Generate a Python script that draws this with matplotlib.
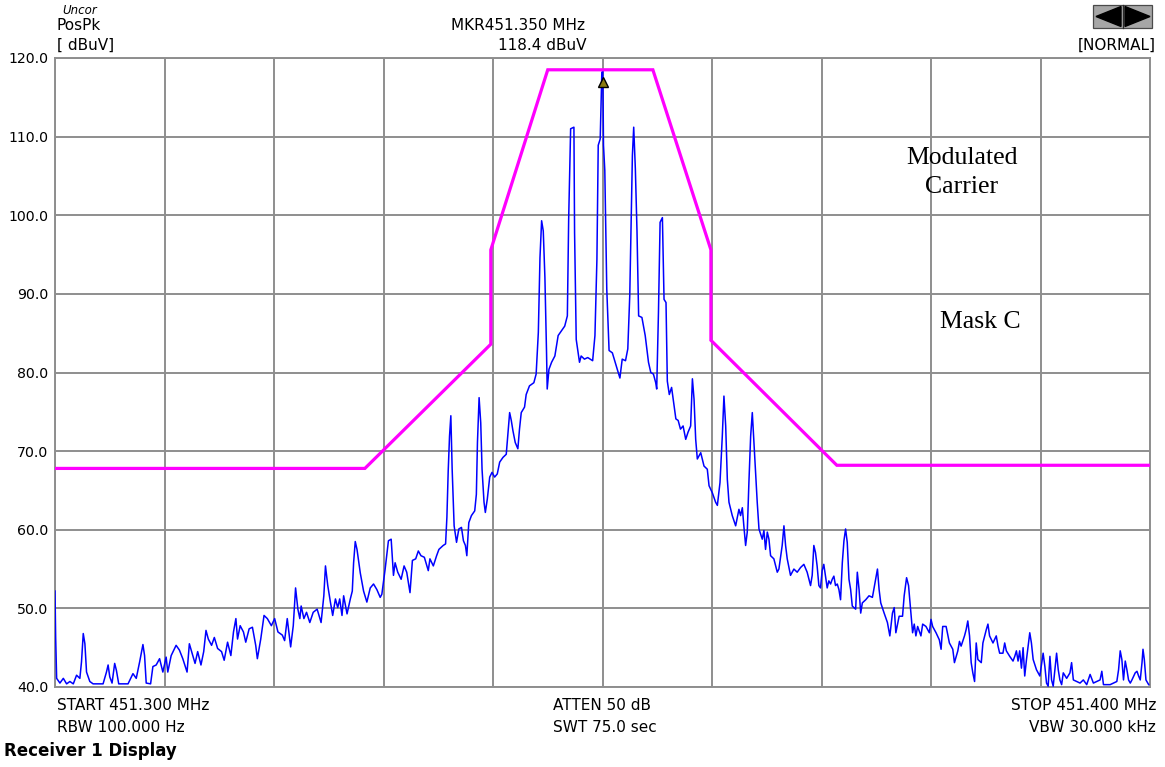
#!/usr/bin/env python3
"""Receiver 1 display: PosPk spectrum trace with Mask C around 451.350 MHz."""
import matplotlib

matplotlib.use("Agg")

import matplotlib.pyplot as plt
from matplotlib.patches import Polygon, Rectangle
import numpy as np

START_MHZ = 451.300
STOP_MHZ = 451.400
Y_MIN, Y_MAX = 40.0, 120.0
Y_TICKS = [40, 50, 60, 70, 80, 90, 100, 110, 120]

# mask C, offset from START in kHz -> dBuV
MASK_KHZ = [0.0, 28.3, 39.8, 39.8, 45.0, 54.6, 59.9, 59.9, 71.4, 100.0]
MASK_DBUV = [67.8, 67.8, 83.6, 95.6, 118.5, 118.5, 95.6, 84.1, 68.2, 68.2]

MARKER_KHZ = 50.0
MARKER_DBUV = 118.4

# PosPk trace: (offset kHz, dBuV)
TRACE = [
    (0.00, 52.2), (0.06, 46.3), (0.15, 41.1), (0.45, 40.5), (0.76, 41.1), (1.06, 40.4),
    (1.36, 40.7), (1.67, 40.4), (1.97, 41.5), (2.27, 41.1), (2.42, 43.2), (2.58, 46.8),
    (2.73, 45.5), (2.88, 41.9), (3.18, 40.7), (3.48, 40.4), (3.94, 40.4), (4.39, 40.4),
    (4.70, 41.9), (4.85, 42.8), (5.00, 41.3), (5.21, 40.5), (5.45, 43.0), (5.61, 42.1),
    (5.82, 40.4), (6.21, 40.4), (6.67, 40.4), (7.12, 41.7), (7.42, 41.1), (7.73, 43.2),
    (8.03, 45.4), (8.18, 44.0), (8.33, 40.5), (8.73, 40.4), (8.94, 42.6), (9.24, 42.8),
    (9.55, 43.6), (9.85, 41.9), (10.15, 43.8), (10.30, 41.9), (10.61, 44.0), (11.06, 45.3),
    (11.36, 44.7), (11.67, 43.6), (12.06, 41.9), (12.27, 45.5), (12.48, 44.5), (12.79, 43.0),
    (13.03, 44.5), (13.33, 42.8), (13.58, 44.5), (13.79, 47.2), (14.00, 46.1), (14.30, 45.3),
    (14.55, 46.3), (14.85, 44.9), (15.21, 44.5), (15.45, 43.4), (15.76, 45.7), (16.06, 44.0),
    (16.30, 47.0), (16.52, 48.7), (16.67, 46.1), (16.91, 47.8), (17.21, 47.0), (17.42, 45.7),
    (17.73, 47.4), (18.03, 47.6), (18.33, 45.3), (18.48, 43.6), (18.79, 46.1), (19.09, 49.1),
    (19.39, 48.7), (19.76, 47.8), (20.06, 48.7), (20.36, 47.0), (20.76, 46.6), (20.97, 45.9),
    (21.21, 48.7), (21.52, 45.1), (21.76, 47.8), (21.97, 52.6), (22.18, 49.9), (22.36, 48.7),
    (22.48, 50.3), (22.73, 48.7), (22.97, 49.5), (23.27, 48.2), (23.58, 49.5), (23.94, 49.9),
    (24.30, 48.2), (24.55, 51.6), (24.70, 55.4), (24.91, 52.9), (25.15, 50.8), (25.36, 49.1),
    (25.61, 51.2), (25.82, 50.1), (26.00, 51.2), (26.21, 49.1), (26.36, 51.6), (26.67, 49.3),
    (26.97, 51.2), (27.15, 52.2), (27.27, 55.8), (27.42, 58.5), (27.58, 57.5), (27.88, 54.5),
    (28.18, 52.2), (28.48, 50.8), (28.79, 52.6), (29.09, 53.1), (29.39, 52.4), (29.70, 51.4),
    (29.85, 51.8), (30.15, 55.0), (30.45, 58.6), (30.70, 58.8), (30.91, 54.2), (31.06, 55.8),
    (31.30, 54.6), (31.61, 53.7), (31.88, 55.4), (32.12, 54.6), (32.42, 52.0), (32.64, 56.1),
    (32.94, 56.3), (33.18, 57.3), (33.42, 56.7), (33.73, 56.5), (34.09, 54.8), (34.24, 56.3),
    (34.55, 55.4), (34.85, 56.7), (35.06, 57.5), (35.45, 58.0), (35.67, 58.2), (35.79, 61.6),
    (35.91, 67.5), (36.03, 71.9), (36.15, 74.5), (36.27, 67.7), (36.45, 60.5), (36.67, 58.4),
    (36.88, 60.1), (37.12, 60.3), (37.30, 58.6), (37.48, 58.0), (37.61, 56.7), (37.79, 60.9),
    (38.03, 61.8), (38.33, 62.4), (38.48, 64.5), (38.58, 71.1), (38.73, 76.8), (38.88, 73.6),
    (39.00, 67.7), (39.18, 63.5), (39.30, 62.2), (39.48, 63.9), (39.70, 66.7), (39.91, 67.3),
    (40.15, 66.7), (40.39, 67.1), (40.61, 68.6), (40.91, 69.2), (41.21, 69.6), (41.36, 72.2),
    (41.52, 74.9), (41.67, 73.9), (41.82, 72.6), (42.03, 71.1), (42.27, 70.3), (42.42, 72.8),
    (42.58, 74.9), (42.88, 75.6), (43.03, 77.2), (43.33, 78.3), (43.73, 78.7), (43.94, 79.8),
    (44.14, 85.1), (44.29, 94.6), (44.44, 99.3), (44.59, 98.0), (44.74, 92.1), (44.89, 82.5),
    (44.95, 77.9), (45.11, 80.4), (45.35, 81.3), (45.65, 82.1), (45.95, 84.7), (46.25, 85.3),
    (46.55, 85.9), (46.79, 87.2), (46.91, 99.5), (47.09, 111.0), (47.39, 111.2), (47.45, 97.8),
    (47.60, 84.2), (47.90, 81.3), (48.05, 82.1), (48.35, 81.7), (48.65, 81.9), (49.10, 81.5),
    (49.31, 84.7), (49.49, 94.4), (49.61, 108.9), (49.79, 109.7), (49.94, 118.2), (50.03, 118.3),
    (50.09, 108.9), (50.21, 105.7), (50.39, 90.6), (50.60, 82.8), (50.90, 82.5), (51.11, 81.5),
    (51.35, 80.4), (51.59, 79.3), (51.80, 81.7), (52.10, 81.5), (52.31, 83.0), (52.49, 89.8),
    (52.61, 98.7), (52.73, 107.6), (52.85, 111.2), (53.00, 105.9), (53.15, 98.0), (53.30, 87.2),
    (53.60, 87.0), (53.90, 84.7), (54.20, 81.3), (54.41, 80.0), (54.65, 79.8), (54.86, 78.7),
    (54.95, 77.9), (55.11, 87.6), (55.26, 99.1), (55.47, 99.7), (55.62, 89.3), (55.80, 88.9),
    (55.92, 78.9), (56.10, 77.2), (56.31, 78.1), (56.46, 76.6), (56.70, 74.1), (56.91, 73.9),
    (57.12, 72.8), (57.36, 73.2), (57.60, 71.5), (57.81, 72.4), (58.05, 73.2), (58.21, 79.2),
    (58.36, 76.6), (58.51, 71.5), (58.66, 69.0), (58.97, 69.8), (59.27, 68.1), (59.57, 67.7),
    (59.73, 65.6), (60.03, 64.7), (60.33, 63.5), (60.49, 63.1), (60.73, 66.0), (60.94, 71.9),
    (61.09, 77.0), (61.25, 73.2), (61.40, 66.4), (61.55, 63.5), (61.85, 61.8), (62.16, 60.5),
    (62.46, 62.6), (62.61, 61.8), (62.77, 62.8), (62.92, 60.3), (63.07, 58.0), (63.22, 59.7),
    (63.37, 66.0), (63.53, 71.9), (63.68, 74.9), (63.83, 71.1), (64.13, 63.5), (64.29, 60.1),
    (64.59, 58.8), (64.74, 59.9), (64.89, 57.5), (65.05, 59.7), (65.20, 58.8), (65.35, 56.7),
    (65.65, 56.3), (65.96, 54.6), (66.11, 55.0), (66.41, 58.0), (66.57, 60.5), (66.72, 58.0),
    (66.87, 56.3), (67.17, 54.2), (67.48, 55.0), (67.78, 54.6), (68.09, 55.2), (68.39, 55.6),
    (68.69, 54.6), (69.00, 52.9), (69.15, 54.2), (69.30, 58.0), (69.45, 57.1), (69.60, 55.4),
    (69.76, 52.9), (69.91, 52.6), (70.06, 54.8), (70.21, 55.6), (70.37, 54.1), (70.52, 52.6),
    (70.67, 53.5), (70.83, 53.1), (70.98, 53.7), (71.13, 54.1), (71.28, 52.9), (71.44, 53.1),
    (71.59, 52.4), (71.74, 51.1), (71.90, 55.8), (72.05, 58.6), (72.20, 60.1), (72.35, 58.4),
    (72.51, 53.7), (72.66, 52.4), (72.81, 50.3), (73.12, 49.9), (73.27, 54.6), (73.43, 52.4),
    (73.58, 49.4), (73.73, 50.7), (74.04, 51.1), (74.34, 51.6), (74.65, 51.4), (74.95, 53.7),
    (75.11, 55.0), (75.26, 52.4), (75.41, 50.7), (75.72, 49.4), (76.02, 48.2), (76.24, 46.5),
    (76.48, 49.4), (76.64, 50.1), (76.79, 46.9), (77.09, 49.0), (77.40, 49.0), (77.55, 51.6),
    (77.77, 53.9), (77.95, 52.9), (78.17, 49.4), (78.32, 46.9), (78.47, 48.0), (78.62, 46.5),
    (78.78, 47.7), (78.93, 47.1), (79.08, 46.5), (79.24, 48.0), (79.54, 47.7), (79.85, 46.9),
    (80.00, 48.6), (80.15, 47.7), (80.46, 46.9), (80.76, 46.0), (80.92, 44.8), (81.07, 47.7),
    (81.38, 47.7), (81.68, 45.6), (81.99, 44.8), (82.14, 43.1), (82.45, 44.6), (82.60, 45.8),
    (82.75, 45.2), (83.06, 46.5), (83.21, 47.3), (83.36, 48.4), (83.52, 46.5), (83.67, 43.1),
    (83.82, 41.8), (83.98, 40.7), (84.13, 45.6), (84.28, 43.5), (84.59, 43.1), (84.74, 45.6),
    (85.05, 47.3), (85.20, 48.0), (85.35, 46.5), (85.66, 45.6), (85.96, 46.5), (86.12, 45.2),
    (86.27, 44.3), (86.57, 44.3), (86.73, 45.6), (86.88, 44.6), (87.19, 43.9), (87.49, 43.3),
    (87.65, 43.9), (87.80, 44.6), (87.95, 43.3), (88.10, 44.6), (88.26, 42.4), (88.41, 45.0),
    (88.56, 41.4), (88.72, 43.5), (88.87, 45.2), (89.02, 46.9), (89.17, 45.6), (89.33, 43.5),
    (89.63, 42.2), (89.94, 41.4), (90.24, 44.3), (90.40, 42.6), (90.55, 40.5), (90.70, 40.1),
    (90.86, 43.9), (91.01, 40.9), (91.16, 40.1), (91.31, 42.2), (91.47, 44.3), (91.62, 42.2),
    (91.77, 40.9), (91.93, 40.3), (92.08, 41.8), (92.39, 41.1), (92.69, 41.8), (92.84, 43.1),
    (93.00, 40.9), (93.30, 40.7), (93.61, 40.5), (93.91, 40.9), (94.22, 40.3), (94.53, 41.6),
    (94.83, 40.5), (95.14, 40.7), (95.44, 40.9), (95.60, 42.0), (95.75, 40.3), (96.36, 40.3),
    (96.97, 40.7), (97.13, 42.2), (97.28, 44.6), (97.43, 43.5), (97.58, 40.9), (97.74, 43.3),
    (97.89, 42.2), (98.04, 40.9), (98.20, 40.5), (98.35, 40.9), (98.65, 41.8), (98.81, 42.0),
    (98.96, 41.4), (99.11, 40.9), (99.27, 43.1), (99.36, 44.8), (99.48, 43.5), (99.63, 40.9),
    (99.88, 40.3),
]

TEXT_FONT = ["DejaVu Sans"]
SERIF_FONT = ["Liberation Serif", "DejaVu Serif"]
GRID_COLOR = "#8e8e8e"

W, H = 1165, 767


def px(x, y):
    """figure pixel (from top-left) -> figure fraction"""
    return x / W, 1.0 - y / H


def draw_scroll_button(fig) -> None:
    # little grey <|> button in the top right corner
    tf = fig.transFigure
    x0, y0 = px(1093, 28)
    x1, y1 = px(1152, 5)
    fig.patches.append(Rectangle((x0, y0), x1 - x0, y1 - y0, transform=tf,
                                 fc="#a6a6a6", ec="#4a4a4a", lw=0.9))
    xm0, ym0 = px(1123, 28)
    xm1, ym1 = px(1123, 5)
    fig.add_artist(matplotlib.lines.Line2D([xm0, xm1], [ym0, ym1], transform=tf,
                                           color="#2a2a2a", lw=0.9))
    left_tri = [px(1096, 16.5), px(1121, 6.5), px(1121, 26.5)]
    right_tri = [px(1150, 16.5), px(1125, 6.5), px(1125, 26.5)]
    for tri in (left_tri, right_tri):
        fig.patches.append(Polygon(tri, closed=True, transform=tf, fc="black", ec="black"))


def main() -> None:
    plt.rcParams["font.family"] = TEXT_FONT
    fig = plt.figure(figsize=(W / 100, H / 100), dpi=100, facecolor="white")
    left, top = px(55, 58)
    right, bottom = px(1150, 687)
    ax = fig.add_axes([left, bottom, right - left, top - bottom])

    span_khz = (STOP_MHZ - START_MHZ) * 1000.0
    ax.set_xlim(0, span_khz)
    ax.set_ylim(Y_MIN, Y_MAX)
    ax.set_xticks(np.linspace(0, span_khz, 11))
    ax.set_xticklabels([])
    ax.set_yticks(Y_TICKS)
    ax.set_yticklabels([f"{v:.1f}" for v in Y_TICKS], fontsize=10.2)
    ax.tick_params(length=0, pad=5)
    ax.grid(True, color=GRID_COLOR, lw=1.4)
    ax.set_axisbelow(True)
    for sp in ax.spines.values():
        sp.set_color(GRID_COLOR)
        sp.set_linewidth(1.4)

    f = np.array([p[0] for p in TRACE])
    lv = np.array([p[1] for p in TRACE])
    ax.plot(f, lv, color="#0000ff", lw=1.1, zorder=3)
    ax.plot(MASK_KHZ, MASK_DBUV, color="#ff00ff", lw=2.3, zorder=4,
            solid_joinstyle="miter")
    ax.plot([MARKER_KHZ], [MARKER_DBUV - 1.5], marker="^", ms=7,
            color="#8a7a10", markeredgecolor="black", markeredgewidth=1.0, zorder=5)

    ax.text(82.8, 105.4, "Modulated\nCarrier", family=SERIF_FONT,
            fontsize=18.5, ha="center", va="center", linespacing=1.4)
    ax.text(84.5, 86.4, "Mask C", family=SERIF_FONT,
            fontsize=18.5, ha="center", va="center")

    fs = 11
    fig.text(*px(62, 11), "Uncor", fontsize=8.5, style="italic", va="center")
    fig.text(*px(57, 26), "PosPk", fontsize=fs, va="center")
    fig.text(*px(57, 45), "[ dBuV]", fontsize=fs, va="center")
    fig.text(*px(451, 25), "MKR451.350 MHz", fontsize=fs, va="center")
    fig.text(*px(586, 45), f"{MARKER_DBUV:.1f} dBuV", fontsize=fs, va="center", ha="right")
    fig.text(*px(1156, 45), "[NORMAL]", fontsize=fs, va="center", ha="right")
    draw_scroll_button(fig)

    fig.text(*px(57, 705), f"START {START_MHZ:.3f} MHz", fontsize=fs, va="center")
    fig.text(*px(57, 727), "RBW 100.000 Hz", fontsize=fs, va="center")
    fig.text(*px(553, 705), "ATTEN 50 dB", fontsize=fs, va="center")
    fig.text(*px(553, 727), "SWT 75.0 sec", fontsize=fs, va="center")
    fig.text(*px(1156, 705), f"STOP {STOP_MHZ:.3f} MHz", fontsize=fs, va="center", ha="right")
    fig.text(*px(1156, 727), "VBW 30.000 kHz", fontsize=fs, va="center", ha="right")
    fig.text(*px(4, 751), "Receiver 1 Display", fontsize=12, weight="bold", va="center")

    fig.savefig("out.png", dpi=100, facecolor="white")
    plt.close(fig)


if __name__ == "__main__":
    main()
